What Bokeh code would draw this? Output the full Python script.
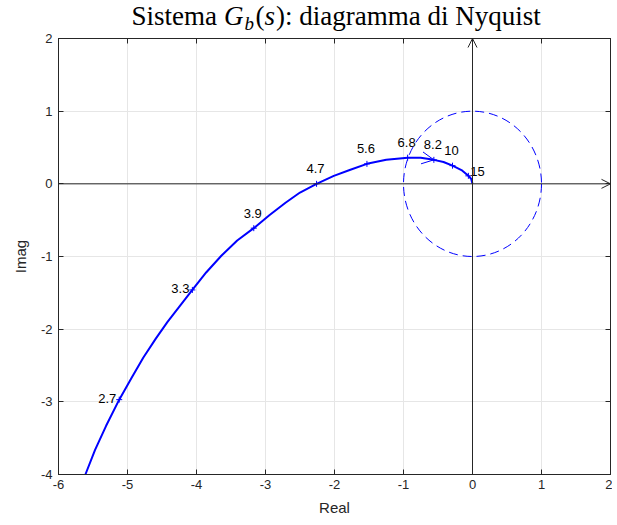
from bokeh.plotting import figure
from bokeh.layouts import column
from bokeh.models import (Range1d, LinearAxis, Arrow, OpenHead, FixedTicker,
                          ColumnDataSource, CDSView, IndexFilter)
from bokeh.core.properties import value
from bokeh.embed import file_html
from bokeh.resources import INLINE

# Nyquist curve
curve_re = [-5.61, -5.47, -5.31, -5.12, -4.94, -4.77, -4.59, -4.42, -4.24, -4.06,
            -3.86, -3.64, -3.41, -3.17, -2.94, -2.71, -2.50, -2.26, -2.01, -1.78,
            -1.53, -1.25, -0.94, -0.75, -0.56, -0.42, -0.29, -0.16, -0.06, -0.02, 0.00]
curve_im = [-4.00, -3.66, -3.33, -2.97, -2.67, -2.39, -2.13, -1.90, -1.68, -1.46,
            -1.22, -0.99, -0.78, -0.61, -0.43, -0.26, -0.12, 0.00, 0.11, 0.19,
            0.275, 0.33, 0.36, 0.36, 0.33, 0.30, 0.25, 0.19, 0.11, 0.07, 0.00]

# frequency marks
freq_labels = ["2.7", "3.3", "3.9", "4.7", "5.6", "6.8", "8.2", "10", "15"]
freq_re = [-5.12, -4.06, -3.17, -2.26, -1.53, -0.94, -0.56, -0.29, -0.06]
freq_im = [-2.97, -1.46, -0.61, 0.00, 0.275, 0.36, 0.33, 0.25, 0.11]

x_ticks = [-6, -5, -4, -3, -2, -1, 0, 1, 2]
y_ticks = [-4, -3, -2, -1, 0, 1, 2]

AX = "#262626"
TICKFONT = "Liberation Sans"
SERIF = "Liberation Serif"

FRAME_L, FRAME_R = 58, 610  # page pixels of the plot frame (title strip shares it)

# ---------------- title strip ----------------
tw, th = 612, 32
t = figure(width=tw, height=th, x_range=Range1d(FRAME_L, FRAME_R), y_range=Range1d(th, 0),
           output_backend="svg", toolbar_location=None, x_axis_type=None, y_axis_type=None,
           min_border=0, min_border_left=0, min_border_right=0, min_border_top=0,
           min_border_bottom=0)
t.outline_line_color = None
t.grid.visible = False
t.background_fill_color = "white"
t.border_fill_color = "white"
pieces = [
    ("Sistema", 131, 15.5, "normal", 27),
    ("G", 223.5, 15.5, "italic", 27),
    ("b", 244, 22.5, "italic", 19),
    ("(", 255, 15.5, "normal", 27),
    ("s", 264, 15.5, "italic", 27),
    ("): diagramma di Nyquist", 275.5, 15.5, "normal", 27),
]
for txt, px, py, style, fs in pieces:
    t.text(x=[px], y=[py], text=[txt], text_font=value(SERIF), text_font_size=f"{fs}px",
           text_font_style=style, text_align="left", text_baseline="alphabetic",
           text_color="black")

# ---------------- main plot ----------------
p = figure(width=612, height=490, x_range=Range1d(x_ticks[0], x_ticks[-1]),
           y_range=Range1d(y_ticks[0], y_ticks[-1]), output_backend="svg",
           toolbar_location=None, min_border_left=FRAME_L, min_border_right=2,
           min_border_top=6, min_border_bottom=48)
p.background_fill_color = "white"
p.border_fill_color = "white"
p.outline_line_color = AX
p.outline_line_width = 1

for ax, ticks in ((p.xaxis[0], x_ticks), (p.yaxis[0], y_ticks)):
    ax.ticker = FixedTicker(ticks=ticks)
    ax.major_label_overrides = {tk: str(tk) for tk in ticks}
    ax.major_tick_in = 5
    ax.major_tick_out = 0
    ax.minor_tick_line_color = None
    ax.axis_line_color = AX
    ax.major_tick_line_color = AX
    ax.major_label_text_font = TICKFONT
    ax.major_label_text_font_size = "13px"
    ax.major_label_text_color = AX
    ax.axis_label_text_font = TICKFONT
    ax.axis_label_text_font_size = "15px"
    ax.axis_label_text_font_style = "normal"
    ax.axis_label_text_color = AX

p.xaxis.axis_label = "Real"
p.yaxis.axis_label = "Imag"
p.xaxis.major_label_standoff = 5
p.xaxis.axis_label_standoff = 7
p.yaxis.major_label_standoff = 6
p.yaxis.axis_label_standoff = 9

# box ticks on top and right (no labels)
for side, ticks in (("above", x_ticks), ("right", y_ticks)):
    a = LinearAxis(ticker=FixedTicker(ticks=ticks), major_tick_in=5, major_tick_out=0,
                   minor_tick_line_color=None, axis_line_color=AX, major_tick_line_color=AX,
                   major_label_text_color=None, major_label_text_font_size="1px",
                   major_label_standoff=0)
    p.add_layout(a, side)

p.xgrid.ticker = FixedTicker(ticks=x_ticks)
p.ygrid.ticker = FixedTicker(ticks=y_ticks)
p.xgrid.grid_line_color = "#e6e6e6"
p.ygrid.grid_line_color = "#e6e6e6"

# zero axes with arrowheads
p.add_layout(Arrow(x_start=x_ticks[0], y_start=0, x_end=x_ticks[-1], y_end=0,
                   line_color=AX, line_width=1,
                   end=OpenHead(size=9, line_color=AX, line_width=1)))
p.add_layout(Arrow(x_start=0, y_start=y_ticks[0], x_end=0, y_end=y_ticks[-1],
                   line_color=AX, line_width=1,
                   end=OpenHead(size=9, line_color=AX, line_width=1)))

# unit circle
p.ellipse(x=[0], y=[0], width=[2], height=[2], fill_color=None,
          line_color="blue", line_width=1, line_dash="9 5")

# Nyquist curve
p.line(curve_re, curve_im, line_color="blue", line_width=2)

# direction arrow on the curve (ending at the 8.2 point)
p.add_layout(Arrow(x_start=curve_re[23], y_start=curve_im[23], x_end=freq_re[6], y_end=freq_im[6],
                   line_alpha=0, end=OpenHead(size=12, line_color="blue", line_width=1)))

# frequency tick marks
p.scatter(freq_re, freq_im, marker="cross", size=6, line_color="blue", line_width=1)

src = ColumnDataSource(dict(x=freq_re, y=freq_im, t=freq_labels))
left_idx = [0, 1]
above_idx = [2, 3, 4, 5, 6, 7]
right_idx = [8]
common = dict(source=src, text="t", text_font=value(TICKFONT), text_font_size="13px",
              text_color="black")
p.text(x="x", y="y", view=CDSView(filter=IndexFilter(left_idx)), text_align="right",
       text_baseline="alphabetic", x_offset=-3, y_offset=-1, **common)
p.text(x="x", y="y", view=CDSView(filter=IndexFilter(above_idx)), text_align="center",
       text_baseline="alphabetic", x_offset=-1, y_offset=-15, **common)
p.text(x="x", y="y", view=CDSView(filter=IndexFilter(right_idx)), text_align="left",
       text_baseline="alphabetic", x_offset=2, y_offset=-4, **common)

layout = column(t, p, spacing=0)
open("out.html", "w").write(file_html(layout, INLINE))
